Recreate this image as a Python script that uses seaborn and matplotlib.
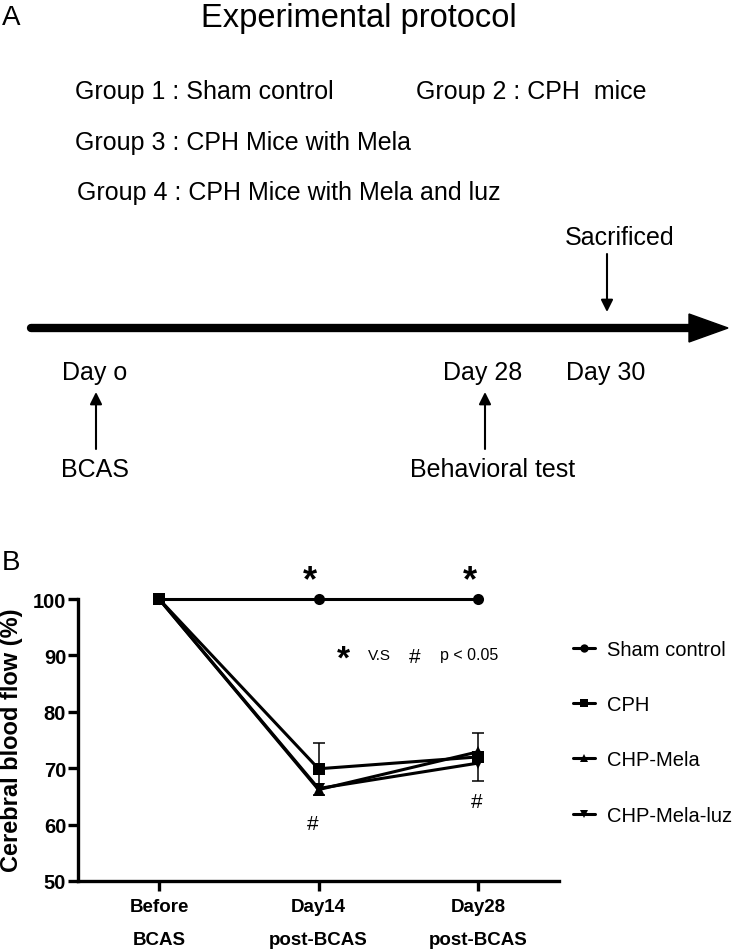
import numpy as np
import pandas as pd
import seaborn as sns
import matplotlib.pyplot as plt
from matplotlib.patches import Polygon

# ---- data (panel B) ----
timepoints = ["Before\nBCAS", "Day14\npost-BCAS", "Day28\npost-BCAS"]
groups = ["Sham control", "CPH", "CHP-Mela", "CHP-Mela-luz"]
sham = [100, 100, 100]
cph = [100, 69.9, 72.0]
mela = [100, 66.2, 72.9]
mela_luz = [100, 66.4, 70.9]
cph_sem = [0, 4.6, 4.3]
yticks = [50, 60, 70, 80, 90, 100]

# ---- protocol text (panel A) ----
group_lines = ["Group 1 : Sham control", "Group 2 : CPH  mice",
               "Group 3 : CPH Mice with Mela", "Group 4 : CPH Mice with Mela and luz"]
day_labels = ["Day o", "Day 28", "Day 30"]

sns.set_style("ticks")
plt.rcParams["font.family"] = ["Liberation Sans", "DejaVu Sans"]
for key in ["text.color", "axes.labelcolor", "xtick.color", "ytick.color", "axes.edgecolor"]:
    plt.rcParams[key] = "black"

fig = plt.figure(figsize=(7.36, 9.53), dpi=100)

# overlay in pixel coords for the protocol diagram
ax0 = fig.add_axes([0, 0, 1, 1])
ax0.set_xlim(0, 736)
ax0.set_ylim(953, 0)
ax0.axis("off")

ax0.text(2, 25, "A", fontsize=20, va="baseline", ha="left")
ax0.text(359, 27, "Experimental protocol", fontsize=23.5, va="baseline", ha="center")
ax0.text(75, 99, group_lines[0], fontsize=18, va="baseline")
ax0.text(416, 99, group_lines[1], fontsize=18, va="baseline")
ax0.text(75, 150, group_lines[2], fontsize=18, va="baseline")
ax0.text(77, 200, group_lines[3], fontsize=18, va="baseline")
ax0.text(620, 245, "Sacrificed", fontsize=18, va="baseline", ha="center")
ax0.text(95, 380, day_labels[0], fontsize=18, va="baseline", ha="center")
ax0.text(483, 380, day_labels[1], fontsize=18, va="baseline", ha="center")
ax0.text(606, 380, day_labels[2], fontsize=18, va="baseline", ha="center")
ax0.text(95, 477, "BCAS", fontsize=18, va="baseline", ha="center")
ax0.text(493, 477, "Behavioral test", fontsize=18, va="baseline", ha="center")

# timeline
ax0.plot([31, 692], [329, 329], color="black", lw=6, solid_capstyle="round")
ax0.add_patch(Polygon([[689, 315], [689, 343], [728, 329]], closed=True, color="black"))
arrow = dict(arrowstyle="-|>", lw=1.5, color="black", mutation_scale=18, shrinkA=0, shrinkB=0)
ax0.annotate("", xy=(607, 313), xytext=(607, 255), arrowprops=arrow)
ax0.annotate("", xy=(96, 393), xytext=(96, 450), arrowprops=arrow)
ax0.annotate("", xy=(485, 393), xytext=(485, 450), arrowprops=arrow)

ax0.text(2, 570, "B", fontsize=20, va="baseline", ha="left")

# ---- panel B ----
df = pd.DataFrame({
    "time": timepoints * 4,
    "flow": sham + cph + mela + mela_luz,
    "group": np.repeat(groups, len(timepoints)),
})

ax = fig.add_axes([78 / 736, 1 - 882 / 953, (559 - 78) / 736, (882 - 600) / 953])
sns.lineplot(data=df, x="time", y="flow", hue="group", style="group",
             palette=["black"] * 4, markers=["o", "s", "^", "v"], dashes=False,
             markersize=8, lw=2.2, markeredgewidth=0, ax=ax)
xpos = np.arange(len(timepoints))
ax.errorbar(xpos, cph, yerr=cph_sem, fmt="none", ecolor="black",
            elinewidth=1.1, capsize=4, capthick=1.1)
for ln in ax.lines:
    ln.set_clip_on(False)

ax.set_xlim(-0.508, 2.508)
ax.set_ylim(50, 100)
ax.set_yticks(yticks)
ax.set_xticks(xpos)
ax.set_xticklabels(timepoints, fontsize=13.5, fontweight="bold", linespacing=2.2)
ax.set_xlabel("")
ax.set_ylabel("")
sns.despine(ax=ax)
for s in ["left", "bottom"]:
    ax.spines[s].set_linewidth(2.4)
ax.tick_params(width=2.4, length=7.5)
ax.tick_params(axis="y", labelsize=14.5, pad=1)
ax.tick_params(axis="x", pad=5)
for t in ax.get_yticklabels():
    t.set_fontweight("bold")

fig.text(0, 1 - 740 / 953, "Cerebral blood flow (%)", rotation=90,
         fontsize=17, fontweight="bold", va="center", ha="left")

# significance marks
ax.text(0.947, 101.5, "*", fontsize=26, fontweight="bold", ha="center", va="baseline", clip_on=False)
ax.text(1.95, 101.5, "*", fontsize=26, fontweight="bold", ha="center", va="baseline", clip_on=False)
ax.text(1.154, 87.9, "*", fontsize=24, fontweight="bold", ha="center", va="baseline")
ax.text(1.31, 89.4, "V.S", fontsize=11, ha="left", va="baseline")
ax.text(1.60, 88.8, "#", fontsize=15, ha="center", va="baseline")
ax.text(1.762, 89.4, "p < 0.05", fontsize=11.5, ha="left", va="baseline")
ax.text(0.965, 59.2, "#", fontsize=15, ha="center", va="baseline")
ax.text(1.99, 63.1, "#", fontsize=15, ha="center", va="baseline")

handles, labels = ax.get_legend_handles_labels()
ax.legend(handles, labels, loc="upper left",
          bbox_to_anchor=(573 / 736, 1 - 641 / 953), bbox_transform=fig.transFigure,
          frameon=False, fontsize=14.5, labelspacing=1.8, handlelength=1.1,
          handletextpad=0.6, borderpad=0, borderaxespad=0, markerscale=0.75)

fig.savefig("out.png", dpi=100)
